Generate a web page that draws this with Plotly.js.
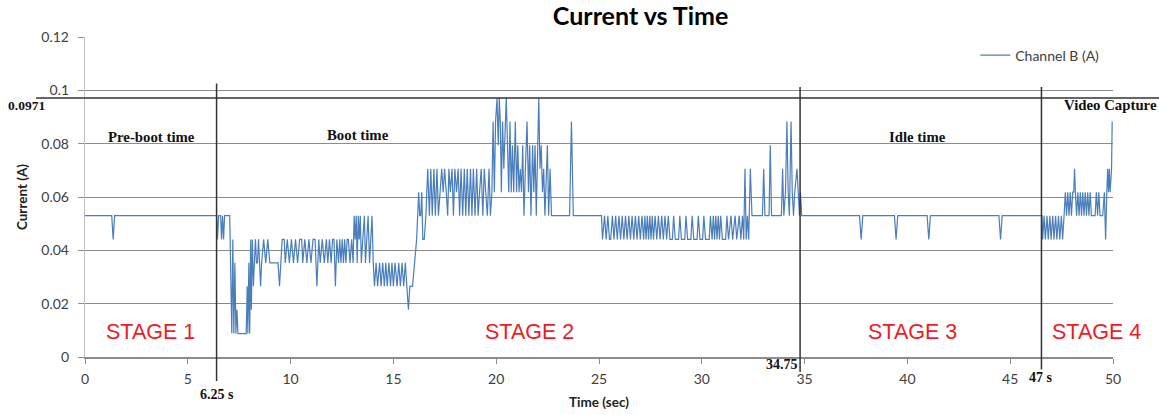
<!DOCTYPE html>
<html>
<head>
<meta charset="utf-8">
<script src="https://cdn.plot.ly/plotly-3.0.1.min.js"></script>
<style>
  html, body { margin: 0; padding: 0; background: #ffffff; }
  #chart { width: 1159px; height: 415px; }
</style>
</head>
<body>
<div id="chart"></div>
<script>
// ---- Data ----
const timeSec = [
  0, 1.3, 1.37, 1.44, 6.4,
  6.44, 6.5, 6.6, 6.64, 6.69, 6.74, 6.79, 7.04, 7.09, 7.14, 7.19, 7.24, 7.29, 7.34, 7.39, 7.44, 7.84,
  7.89, 7.92, 7.97, 8.01, 8.06, 8.09, 8.14, 8.19, 8.24, 8.29, 8.34, 8.39, 8.44, 8.49, 8.54, 8.59,
  8.69, 8.79, 8.89, 8.99, 9.39, 9.46, 9.54, 9.59, 9.69, 9.74, 9.84, 9.94, 10.04, 10.14, 10.24, 10.34,
  10.44, 10.54, 10.59, 10.69, 10.79, 10.89, 10.99, 11.09, 11.19, 11.28, 11.37, 11.44, 11.54, 11.64,
  11.74, 11.81, 11.89, 11.97, 12.04, 12.11, 12.18, 12.25, 12.33, 12.39, 12.45, 12.51, 12.57, 12.63,
  12.69, 12.75, 12.81, 12.89, 12.97, 13.04,
  13.09, 13.14, 13.19, 13.24, 13.29, 13.34, 13.39, 13.44, 13.51, 13.59, 13.64, 13.71, 13.77, 13.84, 13.89, 13.96, 14.02,
  14.08, 14.16, 14.23, 14.33, 14.4, 14.48, 14.56, 14.63, 14.7, 14.78, 14.86, 14.93, 15.0, 15.08, 15.18,
  15.26, 15.34, 15.42, 15.5, 15.58, 15.66, 15.73, 15.8, 15.93,
  16.03, 16.13, 16.18, 16.23, 16.28, 16.33, 16.38, 16.43, 16.5, 16.58,
  16.67, 16.75, 16.82, 16.89, 16.97, 17.04, 17.12, 17.19, 17.27, 17.35, 17.42, 17.49, 17.57, 17.64,
  17.7, 17.77, 17.85, 17.92, 17.99, 18.07, 18.15, 18.22, 18.29, 18.37, 18.45, 18.52, 18.59, 18.67,
  18.75, 18.82, 18.89, 18.97, 19.05, 19.12, 19.19, 19.27, 19.35, 19.42, 19.49, 19.57, 19.65, 19.72,
  19.79, 19.85, 19.91, 19.97, 20.04, 20.1, 20.15, 20.2, 20.25, 20.31, 20.37, 20.43, 20.49, 20.55,
  20.61, 20.67, 20.73, 20.79, 20.85, 20.93, 20.99, 21.05, 21.11, 21.17, 21.23, 21.29, 21.35, 21.42,
  21.5, 21.57, 21.63, 21.69, 21.77, 21.83, 21.89, 21.95, 22.02, 22.07, 22.13, 22.19, 22.25, 22.31,
  22.37, 22.43, 22.49, 22.55, 22.62, 22.69,
  23.57, 23.66, 23.75, 25.12,
  25.17, 25.27, 25.35, 25.43, 25.51, 25.57, 25.65, 25.73, 25.81, 25.89, 25.97, 26.05, 26.13, 26.21,
  26.29, 26.37, 26.45, 26.53, 26.61, 26.69, 26.77, 26.85, 26.93, 27.01, 27.09, 27.17, 27.23, 27.29,
  27.35, 27.41, 27.47, 27.53, 27.59, 27.65, 27.73, 27.81, 27.89, 27.97, 28.05, 28.13, 28.21, 28.29,
  28.37, 28.45, 28.57, 28.63, 28.71, 28.87, 28.93, 29.01, 29.17, 29.23, 29.31, 29.47, 29.53, 29.61,
  29.77, 29.83, 29.91, 30.04, 30.1, 30.18, 30.36, 30.42, 30.5, 30.56, 30.62, 30.68, 30.74, 30.8,
  30.86, 30.92, 31.0, 31.16, 31.22, 31.3, 31.42, 31.5, 31.62, 31.7, 31.82, 31.9, 31.98, 32.04,
  32.1, 32.16, 32.22, 32.28, 32.36, 32.44, 32.95, 33.01, 33.07, 33.27, 33.33, 33.39, 33.87, 33.93,
  33.99, 34.07, 34.14, 34.2, 34.26, 34.34, 34.4, 34.46, 34.52, 34.63, 34.69, 34.75, 34.8, 34.86,
  37.67, 37.75, 37.83, 39.37, 39.45, 39.53, 40.96, 41.04, 41.12, 44.45, 44.53, 44.61, 46.55,
  46.58, 46.65, 46.71, 46.79, 46.85, 46.93, 46.99, 47.07, 47.13, 47.21, 47.27, 47.35, 47.41, 47.49, 47.55, 47.62,
  47.68, 47.74, 47.8, 47.86, 47.92, 47.98, 48.04, 48.09, 48.13, 48.17, 48.23, 48.29, 48.35, 48.41,
  48.47, 48.53, 48.59, 48.65, 48.71, 48.77, 48.83, 48.89, 48.95, 49.13, 49.19, 49.25, 49.31, 49.37,
  49.5, 49.58, 49.64, 49.7, 49.74, 49.78, 49.82, 49.86, 49.9, 49.93, 49.96
];
const currentA = [
  .053, .053, .0441, .053, .053,
  .0441, .053, .053, .0441, .053, .0441, .053, .053, .0353, .0088, .0441, .0088, .0353, .0088, .0177, .0088, .0088,
  .0265, .0088, .0353, .0088, .0441, .0177, .0441, .0265, .0353, .0441, .0353, .0353, .0441, .0353, .0265, .0353,
  .0441, .0353, .0441, .0353, .0353, .0265, .0353, .0441, .0441, .0353, .0441, .0353, .0441, .0353, .0441, .0353,
  .0441, .0441, .0353, .0441, .0353, .0441, .0353, .0441, .0441, .0265, .0441, .0353, .0441, .0353,
  .0441, .0353, .0441, .0353, .0441, .0441, .0265, .0441, .0353, .0441, .0353, .0441, .0353, .0441,
  .0353, .0441, .0441, .0353, .0441, .0353,
  .053, .0441, .053, .0353, .053, .0441, .053, .0353, .0441, .053, .0353, .0441, .053, .0353, .0441, .053, .0353,
  .0265, .0353, .0265, .0353, .0265, .0353, .0265, .0353, .0265, .0353, .0265, .0353, .0265, .0353, .0265,
  .0353, .0265, .0353, .0265, .0353, .0265, .0177, .0265, .0265,
  .0353, .0441, .053, .0618, .053, .053, .0618, .0441, .0441, .053,
  .0706, .053, .0706, .053, .0706, .053, .0706, .053, .0618, .0706, .0618, .0706, .0618, .053,
  .0706, .0618, .0706, .053, .0706, .0618, .0706, .053, .0706, .053, .0706, .053, .0706, .053,
  .0706, .053, .0706, .053, .0706, .053, .0618, .0706, .053, .0706, .0618, .053, .0706, .053,
  .0618, .0883, .0618, .0883, .0971, .0794, .0971, .0883, .0618, .0883, .0706, .0883, .0971, .0794,
  .0618, .0883, .0618, .0794, .0618, .0883, .0618, .0794, .0618, .0706, .0618, .0794, .053, .0706,
  .0883, .0618, .0794, .053, .0794, .0618, .0794, .053, .0794, .0971, .0706, .0794, .0618, .0706,
  .053, .0706, .0794, .053, .0706, .053,
  .053, .0883, .053, .053,
  .0441, .053, .0441, .053, .0441, .0441, .053, .0441, .053, .0441, .053, .0441, .053, .0441,
  .053, .0441, .053, .0441, .053, .0441, .053, .0441, .053, .0441, .053, .0441, .053, .0441,
  .053, .0441, .053, .0441, .053, .0441, .053, .0441, .053, .0441, .053, .0441, .053, .0441,
  .053, .0441, .0441, .053, .0441, .0441, .053, .0441, .0441, .053, .0441, .0441, .053, .0441,
  .0441, .053, .0441, .0441, .053, .0441, .0441, .053, .0441, .053, .0441, .053, .0441, .053,
  .0441, .053, .0441, .0441, .053, .0441, .053, .0441, .053, .0441, .053, .0441, .053, .0441,
  .0706, .0441, .053, .0441, .0706, .053, .053, .0706, .053, .053, .0794, .053, .053, .0706,
  .053, .0618, .0883, .0618, .053, .0883, .0618, .053, .0618, .0706, .0618, .053, .0618, .053,
  .053, .0441, .053, .053, .0441, .053, .053, .0441, .053, .053, .0441, .053, .053,
  .0441, .053, .0441, .053, .0441, .053, .0441, .053, .0441, .053, .0441, .053, .0441, .053, .0441, .053,
  .0618, .053, .0618, .053, .0618, .053, .0618, .0618, .0706, .0618, .053, .0618, .053, .0618,
  .053, .0618, .053, .0618, .053, .0618, .053, .0618, .053, .053, .0618, .053, .0618, .053,
  .053, .0618, .0441, .0618, .0706, .0618, .0706, .0618, .0706, .0706, .0883
];
const seriesName = 'Channel B (A)';
const chartTitle = 'Current vs Time';
const xTitle = 'Time (sec)';
const yTitle = 'Current (A)';

// stage boundaries (as drawn) and their labels
const boundaryTimes = [6.4, 34.78, 46.52];
const boundaryLabels = ['6.25 s', '34.75', '47 s'];
const thresholdValue = 0.0971;
const thresholdLabel = '0.0971';
const phaseNames = ['Pre-boot time', 'Boot time', 'Idle time', 'Video Capture'];
const phaseLabelX = [3.22, 13.3, 40.5, 49.9];
const phaseLabelY = [0.0825, 0.0833, 0.0824, 0.0945];
const stageNames = ['STAGE 1', 'STAGE 2', 'STAGE 3', 'STAGE 4'];
const stageLabelX = [3.2, 21.6, 40.25, 49.2];
const stageLabelY = 0.0092;

// ---- Layout helpers ----
const serifFamily = 'Liberation Serif, DejaVu Serif, serif';
const serifBold = { family: serifFamily, size: 14.8, color: '#111111' };
const annotations = [];
phaseNames.forEach((n, i) => annotations.push({
  x: phaseLabelX[i], y: phaseLabelY[i], xref: 'x', yref: 'y', text: '<b>' + n + '</b>',
  showarrow: false, font: serifBold, xanchor: 'center', yanchor: 'middle'
}));
stageNames.forEach((n, i) => annotations.push({
  x: stageLabelX[i], y: stageLabelY, xref: 'x', yref: 'y', text: n,
  showarrow: false, font: { family: 'Liberation Sans, Arial, sans-serif', size: 21.5, color: '#ee1c25' },
  xanchor: 'center', yanchor: 'middle'
}));
// boundary labels
annotations.push({ x: boundaryTimes[0], y: -0.118, xref: 'x', yref: 'paper', text: '<b>' + boundaryLabels[0] + '</b>',
  showarrow: false, font: { family: serifFamily, size: 14, color: '#111' }, xanchor: 'center', yanchor: 'middle' });
annotations.push({ x: boundaryTimes[1], y: -0.023, xref: 'x', yref: 'paper', text: '<b>' + boundaryLabels[1] + '</b>',
  showarrow: false, font: { family: serifFamily, size: 14, color: '#111' }, xanchor: 'right', yanchor: 'middle', xshift: 0 });
annotations.push({ x: boundaryTimes[2], y: -0.064, xref: 'x', yref: 'paper', text: '<b>' + boundaryLabels[2] + '</b>',
  showarrow: false, font: { family: serifFamily, size: 14, color: '#111' }, xanchor: 'center', yanchor: 'middle' });
annotations.push({ x: -0.057, y: thresholdValue, xref: 'paper', yref: 'y', text: '<b>' + thresholdLabel + '</b>',
  showarrow: false, font: { family: serifFamily, size: 13.5, color: '#111' }, xanchor: 'center', yanchor: 'top', yshift: 2 });

const shapes = [
  { type: 'line', xref: 'paper', yref: 'y', x0: -0.0477, x1: 1.0447, y0: thresholdValue, y1: thresholdValue,
    line: { color: '#333333', width: 1.6 } },
  { type: 'line', xref: 'x', yref: 'paper', x0: boundaryTimes[0], x1: boundaryTimes[0], y0: -0.075, y1: 0.855,
    line: { color: '#333333', width: 1.5 } },
  { type: 'line', xref: 'x', yref: 'paper', x0: boundaryTimes[1], x1: boundaryTimes[1], y0: -0.047, y1: 0.844,
    line: { color: '#333333', width: 1.5 } },
  { type: 'line', xref: 'x', yref: 'paper', x0: boundaryTimes[2], x1: boundaryTimes[2], y0: -0.039, y1: 0.844,
    line: { color: '#333333', width: 1.5 } }
];

const sansFamily = 'Lato, Open Sans, sans-serif';
const tickFont = { family: sansFamily, size: 14, color: '#404040' };

const trace = {
  x: timeSec, y: currentA, type: 'scatter', mode: 'lines', name: seriesName,
  line: { color: '#4a7ebb', width: 1.2 }
};

const layout = {
  width: 1159, height: 415,
  margin: { l: 85, r: 46, t: 36.5, b: 57.5, pad: 0 },
  paper_bgcolor: '#ffffff', plot_bgcolor: '#ffffff',
  title: { text: '<b>' + chartTitle + '</b>', x: 0.5405, xref: 'paper', xanchor: 'center', y: 0.96, yanchor: 'middle',
    font: { family: sansFamily, size: 25, color: '#000000' } },
  showlegend: true,
  legend: { x: 0.866, xanchor: 'left', y: 0.942, yanchor: 'middle', bgcolor: 'rgba(0,0,0,0)',
    font: { family: sansFamily, size: 14, color: '#404040' } },
  xaxis: {
    range: [0, 50], dtick: 5, tick0: 0, showgrid: false, zeroline: false,
    showline: true, linecolor: '#8c8c8c', linewidth: 1.5,
    ticks: 'outside', ticklen: 5, tickcolor: '#8c8c8c', tickwidth: 1,
    tickfont: tickFont, ticklabelstandoff: 4,
    title: { text: '<b>' + xTitle + '</b>', font: { family: sansFamily, size: 13.5, color: '#222' }, standoff: 11 },
    automargin: false
  },
  yaxis: {
    range: [0, 0.12], dtick: 0.02, tick0: 0, showgrid: true, gridcolor: '#8c8c8c', gridwidth: 1,
    zeroline: false, showline: true, linecolor: '#c0c0c0', linewidth: 1.2,
    ticks: 'outside', ticklen: 6, tickcolor: '#8c8c8c', tickwidth: 1,
    tickfont: tickFont, ticklabelstandoff: 6,
    title: { text: '<b>' + yTitle + '</b>', font: { family: sansFamily, size: 13.5, color: '#222' }, standoff: 10 },
    automargin: false
  },
  annotations: annotations,
  shapes: shapes
};

Plotly.newPlot('chart', [trace], layout, { displayModeBar: false, staticPlot: true });
</script>
</body>
</html>
